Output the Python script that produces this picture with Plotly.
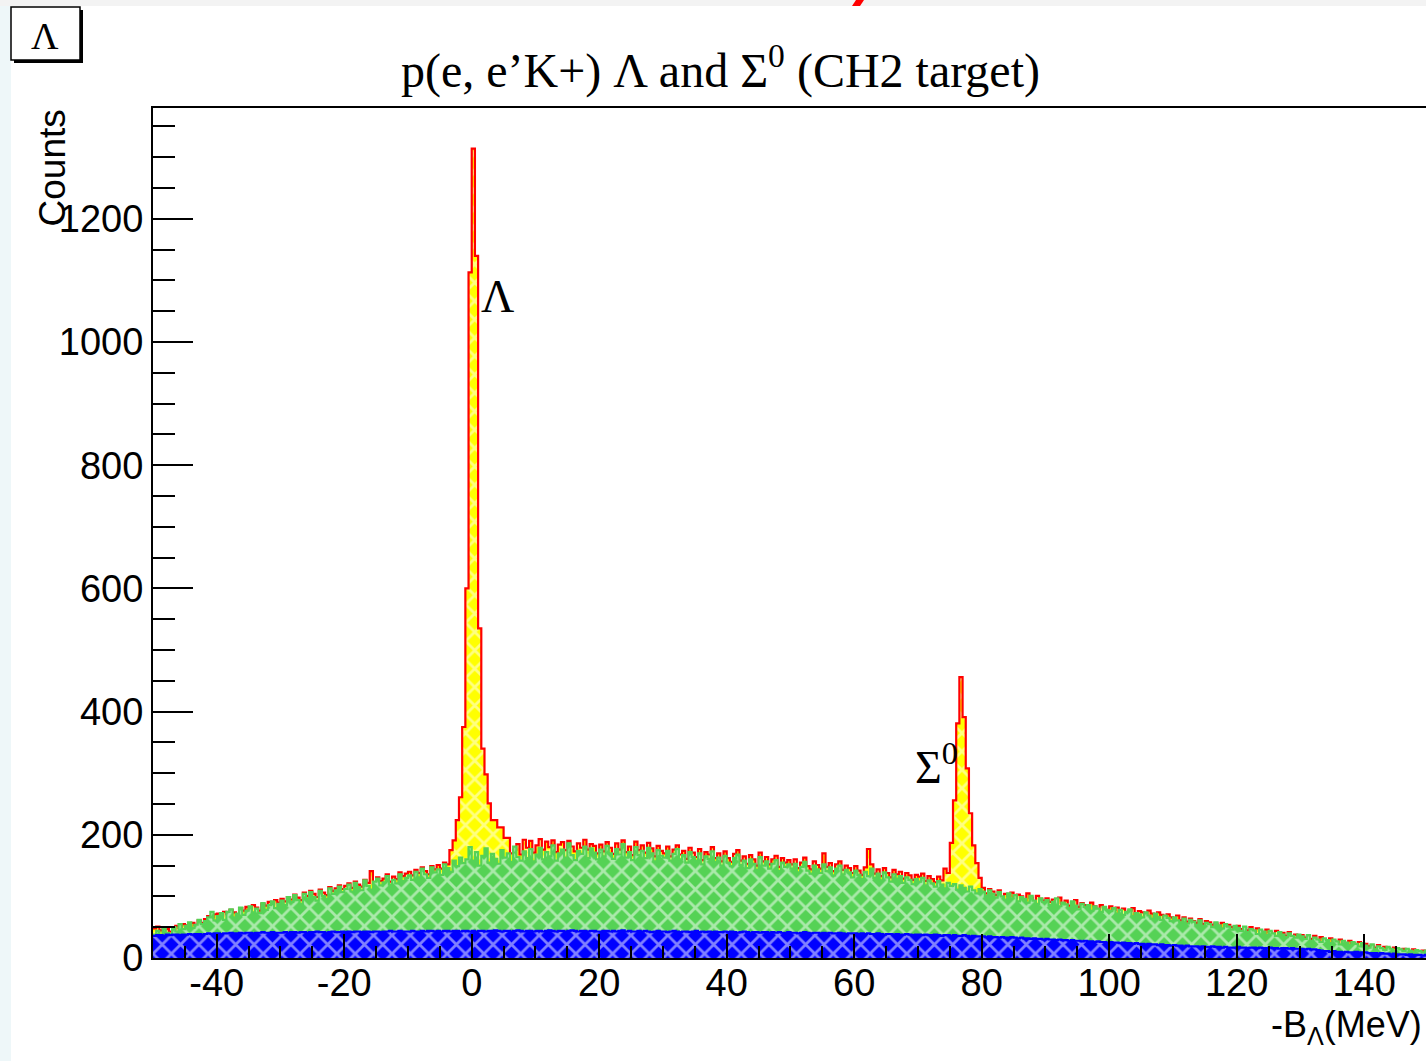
import numpy as np
import plotly.graph_objects as go

# Binning of the missing-mass axis -B_Lambda (MeV)
X_MIN, X_MAX, BIN_W = -50.0, 150.0, 0.5

# All p(e,e'K+) events, 0.5 MeV bins, one row = 10 MeV (red outline, yellow fill)
counts_total = [
    48, 51, 45, 49, 47, 43, 46, 52, 49, 55, 53, 50, 57, 54, 61, 57, 63, 68, 66, 71,
    72, 69, 75, 71, 78, 74, 70, 81, 77, 83, 79, 86, 82, 77, 88, 85, 91, 87, 94, 90,
    96, 92, 99, 95, 103, 98, 94, 106, 101, 109, 104, 99, 111, 106, 102, 115, 109, 113, 118, 112,
    117, 121, 114, 124, 119, 116, 127, 122, 141, 120, 131, 125, 129, 136, 124, 132, 128, 139, 133, 137,
    140, 134, 143, 138, 147, 141, 136, 149, 144, 151, 145, 155, 152, 175, 191, 224, 261, 375, 600, 1113,
    1314, 1140, 535, 340, 298, 251, 224, 224, 212, 212, 195, 195, 170, 176, 185, 168, 192, 179, 190, 171,
    183, 193, 176, 189, 180, 191, 172, 184, 188, 175, 190, 181, 173, 186, 179, 192, 176, 185, 182, 170,
    184, 173, 188, 179, 169, 186, 176, 191, 172, 181, 167, 189, 175, 183, 171, 187, 178, 165, 182, 174,
    170, 181, 165, 176, 183, 168, 174, 161, 179, 171, 164, 177, 159, 172, 168, 180, 162, 170, 157, 173,
    162, 156, 169, 175, 158, 165, 153, 167, 160, 150, 171, 157, 164, 152, 160, 166, 148, 162, 155, 159,
    152, 160, 146, 155, 163, 149, 144, 157, 151, 145, 170, 148, 154, 141, 152, 157, 143, 150, 146, 138,
    149, 142, 135, 147, 177, 152, 137, 144, 133, 146, 138, 131, 143, 136, 140, 129, 138, 134, 127, 135,
    132, 137, 125, 133, 128, 123, 132, 126, 145, 138, 187, 256, 381, 456, 391, 308, 235, 183, 154, 130,
    114, 105, 112, 108, 102, 110, 99, 104, 101, 106, 97, 103, 100, 94, 105, 98, 92, 101, 96, 93,
    97, 91, 95, 89, 98, 88, 93, 85, 90, 94, 83, 89, 86, 81, 90, 84, 79, 86, 82, 78,
    84, 78, 82, 75, 80, 73, 77, 81, 71, 76, 74, 69, 77, 72, 67, 74, 70, 64, 71, 66,
    64, 69, 61, 66, 59, 64, 60, 57, 63, 55, 60, 58, 54, 56, 51, 57, 49, 54, 50, 47,
    52, 47, 49, 45, 50, 42, 48, 44, 40, 46, 42, 38, 44, 39, 41, 36, 42, 35, 38, 34,
    37, 33, 35, 31, 36, 28, 34, 30, 27, 32, 28, 25, 30, 26, 23, 28, 24, 21, 26, 22,
    23, 19, 20, 17, 21, 14, 18, 16, 13, 17, 14, 12, 15, 13, 10, 14, 11, 9, 12, 10,
]

# Background estimate (green)
counts_bg = [
    38, 44, 36, 47, 41, 39, 50, 43, 55, 47, 52, 58, 49, 54, 62, 55, 60, 66, 75, 61,
    68, 73, 62, 75, 79, 66, 72, 82, 70, 77, 84, 74, 80, 73, 89, 78, 86, 92, 81, 88,
    93, 86, 99, 91, 102, 94, 88, 104, 97, 107, 99, 93, 109, 101, 96, 113, 104, 110, 116, 107,
    112, 119, 108, 122, 115, 110, 126, 117, 111, 124, 129, 118, 123, 133, 119, 127, 121, 136, 125, 130,
    134, 127, 140, 131, 145, 136, 130, 147, 139, 144, 135, 152, 146, 140, 158, 149, 163, 154, 160, 180,
    158, 172, 150, 166, 178, 155, 169, 161, 153, 175, 163, 170, 156, 181, 164, 158, 173, 162, 177, 157,
    168, 179, 160, 172, 165, 183, 158, 170, 176, 163, 186, 167, 159, 174, 169, 181, 162, 178, 171, 160,
    176, 165, 182, 170, 161, 177, 168, 185, 163, 172, 159, 180, 167, 174, 162, 179, 170, 157, 175, 166,
    163, 174, 158, 169, 177, 160, 167, 155, 172, 164, 158, 170, 152, 165, 161, 173, 156, 163, 150, 166,
    155, 149, 162, 168, 151, 158, 146, 160, 153, 143, 164, 150, 157, 145, 153, 159, 141, 155, 148, 152,
    145, 153, 139, 148, 156, 142, 137, 150, 144, 138, 152, 141, 147, 134, 145, 150, 136, 143, 139, 131,
    142, 135, 128, 140, 133, 145, 130, 137, 126, 139, 131, 124, 136, 129, 133, 122, 131, 127, 120, 128,
    124, 130, 118, 126, 121, 116, 125, 119, 113, 122, 117, 120, 111, 118, 114, 108, 116, 110, 105, 112,
    108, 101, 110, 104, 98, 107, 100, 95, 105, 97, 102, 92, 99, 96, 90, 101, 93, 88, 97, 91,
    94, 86, 91, 97, 84, 90, 87, 81, 92, 85, 79, 88, 83, 86, 77, 84, 80, 75, 83, 78,
    76, 81, 72, 78, 70, 75, 79, 68, 73, 71, 66, 74, 69, 64, 72, 67, 62, 69, 65, 60,
    66, 61, 58, 64, 56, 62, 59, 54, 61, 52, 57, 55, 50, 58, 53, 48, 55, 51, 46, 52,
    49, 44, 51, 42, 47, 45, 39, 46, 43, 37, 44, 40, 36, 42, 38, 34, 40, 36, 33, 38,
    35, 31, 37, 28, 33, 30, 26, 32, 29, 24, 30, 27, 22, 28, 25, 21, 26, 23, 19, 24,
    20, 17, 22, 15, 19, 16, 13, 18, 15, 12, 16, 14, 11, 15, 12, 10, 13, 11, 9, 12,
]

# Accidental coincidences (blue)
counts_acc = [
    36, 37, 37, 36, 38, 37, 38, 38, 37, 38, 38, 39, 38, 39, 39, 38, 39, 40, 39, 40,
    40, 39, 40, 40, 41, 40, 40, 41, 40, 41, 41, 40, 41, 41, 42, 41, 41, 42, 41, 41,
    41, 42, 41, 42, 42, 41, 42, 42, 41, 42, 42, 43, 42, 42, 41, 42, 43, 42, 42, 43,
    42, 43, 42, 43, 43, 42, 43, 43, 42, 43, 43, 42, 43, 43, 44, 43, 43, 44, 43, 43,
    43, 44, 43, 43, 44, 43, 44, 44, 43, 44, 43, 44, 44, 43, 44, 44, 43, 44, 44, 43,
    44, 43, 44, 44, 43, 44, 44, 45, 44, 43, 44, 44, 43, 44, 45, 44, 43, 44, 44, 43,
    44, 44, 43, 44, 45, 44, 43, 44, 44, 43, 44, 45, 44, 43, 44, 44, 43, 44, 44, 43,
    43, 44, 44, 43, 44, 43, 44, 45, 43, 44, 43, 43, 44, 43, 44, 43, 42, 43, 44, 43,
    43, 42, 43, 44, 43, 42, 43, 43, 42, 43, 44, 42, 43, 42, 43, 42, 43, 42, 42, 43,
    42, 43, 42, 41, 42, 43, 42, 41, 42, 42, 41, 42, 42, 41, 42, 41, 42, 41, 41, 42,
    41, 41, 40, 41, 42, 41, 40, 41, 41, 40, 41, 40, 41, 40, 40, 41, 40, 39, 40, 40,
    40, 39, 40, 39, 40, 39, 39, 40, 39, 38, 39, 39, 38, 39, 38, 38, 39, 38, 37, 38,
    38, 37, 38, 37, 37, 38, 37, 36, 37, 37, 36, 37, 36, 36, 37, 36, 35, 36, 35, 35,
    35, 34, 35, 34, 34, 33, 34, 33, 33, 34, 33, 32, 33, 32, 32, 31, 32, 31, 31, 30,
    31, 30, 30, 29, 30, 29, 29, 28, 29, 28, 28, 27, 28, 27, 27, 26, 27, 26, 26, 25,
    26, 25, 25, 24, 25, 24, 24, 23, 24, 23, 23, 22, 23, 22, 22, 21, 22, 21, 21, 20,
    21, 20, 20, 19, 20, 19, 19, 19, 18, 19, 18, 18, 19, 18, 18, 17, 18, 17, 17, 17,
    18, 17, 17, 16, 17, 17, 16, 17, 16, 16, 17, 16, 16, 15, 16, 16, 15, 16, 15, 15,
    15, 14, 15, 14, 14, 13, 12, 11, 11, 10, 11, 10, 10, 9, 10, 9, 9, 10, 9, 9,
    9, 8, 8, 8, 7, 8, 7, 7, 6, 7, 6, 6, 6, 5, 6, 5, 5, 5, 4, 5,
]

# Major x tick positions and their labels (plain hyphen for negatives)
x_tick_vals = [-40, -20, 0, 20, 40, 60, 80, 100, 120, 140]
x_tick_text = ["-40", "-20", "0", "20", "40", "60", "80", "100", "120", "140"]

edges = np.arange(X_MIN, X_MAX + BIN_W / 2, BIN_W)

# Canvas geometry (pixels)
W, H = 1426, 1061
PL, PT, PR, PB = 153, 108, 1426, 958


def fx(px):
    return (px - PL) / (PR - PL)


def fy(py):
    return (PB - py) / (PB - PT)


def hist_trace(values, line_color, fill_color, name):
    ys = list(values) + [values[-1]]
    return go.Scatter(
        x=edges, y=ys, mode="lines", name=name,
        line=dict(color=line_color, width=2.2, shape="hv"),
        fill="tozeroy",
        fillcolor=fill_color,
        fillpattern=dict(shape="x", bgcolor=fill_color, fgcolor="white",
                         size=13, solidity=0.38),
        hoverinfo="skip", showlegend=False,
    )


fig = go.Figure()
fig.add_trace(hist_trace(counts_total, "#ff0000", "#ffff00", "all"))
fig.add_trace(hist_trace(counts_bg, "#55d255", "#55d255", "background"))
fig.add_trace(hist_trace(counts_acc, "#0000ff", "#0000ff", "accidentals"))

axis_font = dict(family="Liberation Sans, Arial, sans-serif", size=38, color="black")
serif = "Liberation Serif, Times New Roman, serif"

fig.update_layout(
    width=W, height=H,
    margin=dict(l=PL, r=W - PR, t=PT, b=H - PB, pad=0),
    paper_bgcolor="white", plot_bgcolor="white",
    xaxis=dict(
        range=[-50, 149.7], showgrid=False, zeroline=False,
        showline=True, linecolor="black", linewidth=2, mirror=True,
        ticks="inside", ticklen=24, tickwidth=1.5, tickcolor="black",
        tickmode="array", tickvals=x_tick_vals, ticktext=x_tick_text,
        tickfont=axis_font, ticklabelstandoff=-10,
        minor=dict(ticks="inside", ticklen=12, tickwidth=1.5, tickcolor="black",
                   tickmode="linear", tick0=0, dtick=5, showgrid=False),
    ),
    yaxis=dict(
        range=[0, 1380], showgrid=False, zeroline=False,
        showline=True, linecolor="black", linewidth=2, mirror=False,
        ticks="inside", ticklen=40, tickwidth=1.5, tickcolor="black",
        tick0=0, dtick=200, tickfont=axis_font,
        minor=dict(ticks="inside", ticklen=22, tickwidth=1.5, tickcolor="black", dtick=50, showgrid=False),
    ),
)

shapes = [
    # pale strip on the left edge and grey band along the top
    dict(type="rect", xref="paper", yref="paper", x0=fx(0), x1=fx(11), y0=fy(1061), y1=fy(0),
         fillcolor="#eef7f9", line=dict(width=0), layer="below"),
    dict(type="rect", xref="paper", yref="paper", x0=fx(0), x1=fx(1426), y0=fy(6), y1=fy(0),
         fillcolor="#f3f3f3", line=dict(width=0), layer="below"),
    dict(type="path", xref="paper", yref="paper",
         path=f"M {fx(856)} {fy(0)} L {fx(864)} {fy(0)} L {fx(860)} {fy(6)} L {fx(852)} {fy(6)} Z",
         fillcolor="#ff0000", line=dict(width=0)),
    # histogram name box with its drop shadow
    dict(type="rect", xref="paper", yref="paper", x0=fx(14), x1=fx(83), y0=fy(63), y1=fy(10),
         fillcolor="black", line=dict(width=0)),
    dict(type="rect", xref="paper", yref="paper", x0=fx(11), x1=fx(80), y0=fy(60), y1=fy(7),
         fillcolor="white", line=dict(color="black", width=1.5)),
]
fig.update_layout(shapes=shapes)

annotations = [
    dict(text="Λ", x=fx(45), y=fy(36), font=dict(family=serif, size=38, color="black")),
    dict(text="p(e, e’K+) Λ and Σ<sup>0</sup> (CH2 target)", x=fx(720), y=fy(68),
         font=dict(family=serif, size=48, color="black")),
    dict(text="Λ", x=fx(497), y=fy(296), font=dict(family=serif, size=46, color="black")),
    dict(text="Σ<sup>0</sup>", x=fx(936), y=fy(764), font=dict(family=serif, size=46, color="black")),
    dict(text="-B<sub>Λ</sub>(MeV)", x=fx(1424), y=fy(1027), xanchor="right",
         font=dict(family="Liberation Sans, Arial, sans-serif", size=36, color="black")),
    dict(text="Counts", x=fx(52), y=fy(108), yanchor="top", textangle=-90,
         font=dict(family="Liberation Sans, Arial, sans-serif", size=37, color="black")),
]
for a in annotations:
    a.setdefault("xanchor", "center")
    a.setdefault("yanchor", "middle")
    fig.add_annotation(xref="paper", yref="paper", showarrow=False, **a)

fig.write_html("out.html")
